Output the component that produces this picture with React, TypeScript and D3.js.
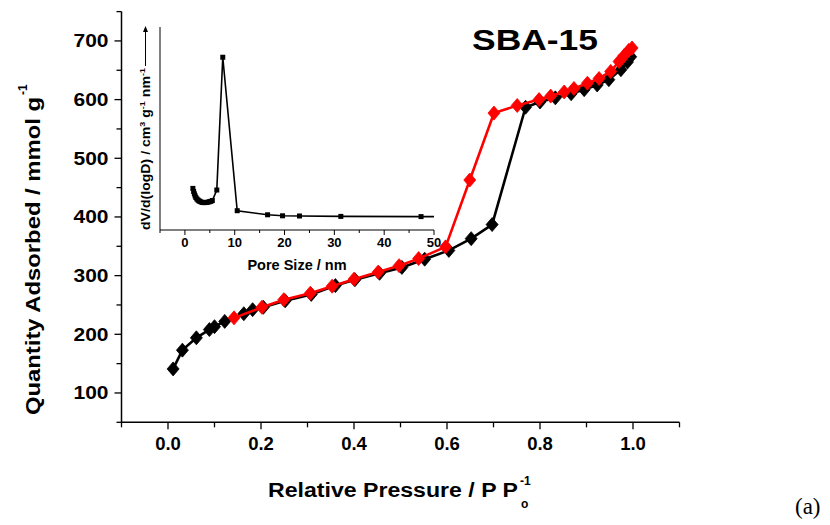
import React from "react";
import * as d3 from "d3";

// Adsorption branch (black)
const adsX = [0.011, 0.031, 0.061, 0.089, 0.100, 0.122, 0.163, 0.182, 0.205, 0.252, 0.308, 0.360, 0.402, 0.455, 0.503, 0.552, 0.604, 0.652, 0.697, 0.769, 0.800, 0.833, 0.867, 0.895, 0.923, 0.948, 0.974, 0.988, 0.995];
const adsY = [141, 173, 194, 208, 213, 222, 235, 242, 246, 257, 268, 283, 293, 304, 314, 328, 343, 363, 387, 587, 596, 603, 610, 617, 625, 634, 651, 664, 673];

// Desorption branch (red)
const desX = [0.142, 0.202, 0.249, 0.306, 0.353, 0.400, 0.452, 0.497, 0.539, 0.597, 0.649, 0.701, 0.751, 0.798, 0.823, 0.852, 0.873, 0.902, 0.927, 0.952, 0.970, 0.981, 0.991, 0.998];
const desY = [228, 246, 259, 270, 282, 294, 306, 317, 329, 349, 463, 577, 590, 600, 606, 613, 619, 628, 636, 648, 665, 675, 684, 688];

// Inset: pore size distribution
const poreX = [1.6, 1.75, 1.9, 2.05, 2.2, 2.4, 2.6, 2.8, 3.0, 3.25, 3.5, 3.75, 4.0, 4.3, 4.6, 4.9, 5.2, 5.5, 6.4, 7.6, 10.5, 16.6, 19.6, 23.0, 31.3, 47.4, 52];
const poreY = [0.205, 0.190, 0.178, 0.168, 0.160, 0.153, 0.148, 0.144, 0.141, 0.138, 0.136, 0.135, 0.135, 0.136, 0.137, 0.139, 0.141, 0.145, 0.197, 0.851, 0.095, 0.075, 0.070, 0.069, 0.067, 0.066, 0.066];

const xTickLabels = ["0.0", "0.2", "0.4", "0.6", "0.8", "1.0"];
const yTickLabels = ["100", "200", "300", "400", "500", "600", "700"];
const insetTickLabels = ["0", "10", "20", "30", "40", "50"];

const FONT = "'Liberation Sans', Arial, Helvetica, sans-serif";

export default function App() {
  const x = d3.scaleLinear().domain([-0.1, 1.1]).range([121.5, 679.5]);
  const y = d3.scaleLinear().domain([50, 750]).range([422.3, 11.6]);

  const ix = d3.scaleLinear().domain([-5, 50]).range([160, 434]);
  const iy = d3.scaleLinear().domain([0, 1]).range([230, 27]);

  const ads = adsX.map((v, i) => [v, adsY[i]] as [number, number]);
  const des = desX.map((v, i) => [v, desY[i]] as [number, number]);
  const pore = poreX.map((v, i) => [v, poreY[i]] as [number, number]);

  const line = d3.line<[number, number]>().x((d) => x(d[0])).y((d) => y(d[1]));
  const iline = d3.line<[number, number]>().x((d) => ix(d[0])).y((d) => iy(d[1]));

  const diamond = (cx: number, cy: number) =>
    `M${cx},${cy - 7}L${cx + 6},${cy}L${cx},${cy + 7}L${cx - 6},${cy}Z`;

  const xTicks = d3.range(-1, 12).map((k) => k / 10);
  const yTicks = d3.range(1, 16).map((k) => k * 50);
  const iTicks = d3.range(-1, 11).map((k) => k * 5);

  return (
    <svg
      width={830}
      height={525}
      style={{ position: "absolute", left: 0, top: 0, background: "#fff" }}
      fontFamily={FONT}
    >
      <rect x={0} y={0} width={830} height={525} fill="#fff" />
      <defs>
        <clipPath id="insetClip">
          <rect x={160} y={20} width={274} height={212} />
        </clipPath>
      </defs>

      {/* Main axes */}
      <line x1={x(-0.1)} x2={x(1.1)} y1={y(50)} y2={y(50)} stroke="#000" strokeWidth={1.5} />
      <line x1={x(-0.1)} x2={x(-0.1)} y1={y(50)} y2={y(750)} stroke="#000" strokeWidth={1.5} />
      {xTicks.map((t, i) => {
        const major = Math.round(t * 10) % 2 === 0;
        return (
          <line key={"xt" + i} x1={x(t)} x2={x(t)} y1={y(50)} y2={y(50) + (major ? 7 : 5)} stroke="#000" strokeWidth={1.3} />
        );
      })}
      {xTickLabels.map((lab) => (
        <text key={"xl" + lab} x={x(+lab)} y={450} textAnchor="middle" fontSize={18.5} fontWeight="bold">
          {lab}
        </text>
      ))}
      {yTicks.map((t) => {
        const major = t % 100 === 0;
        return (
          <line key={"yt" + t} x1={x(-0.1)} x2={x(-0.1) - (major ? 7 : 5)} y1={y(t)} y2={y(t)} stroke="#000" strokeWidth={1.3} />
        );
      })}
      {yTickLabels.map((lab) => (
        <text key={"yl" + lab} x={108.5} y={y(+lab) + 6.5} textAnchor="end" fontSize={18} fontWeight="bold" textLength={35} lengthAdjust="spacingAndGlyphs">
          {lab}
        </text>
      ))}

      {/* Axis titles */}
      <text x={268} y={497} fontSize={20} fontWeight="bold" textLength={250} lengthAdjust="spacingAndGlyphs">
        Relative Pressure / P P
      </text>
      <text x={520} y={485} fontSize={12} fontWeight="bold">-1</text>
      <text x={521} y={508} fontSize={12} fontWeight="bold">o</text>

      <g transform="translate(40,415) rotate(-90)">
        <text x={0} y={0} fontSize={20} fontWeight="bold" textLength={318} lengthAdjust="spacingAndGlyphs">
          Quantity Adsorbed / mmol g
        </text>
        <text x={320} y={-13} fontSize={12} fontWeight="bold">-1</text>
      </g>

      {/* Title */}
      <text x={472} y={50} fontSize={30} fontWeight="bold" textLength={126} lengthAdjust="spacingAndGlyphs">
        SBA-15
      </text>

      {/* (a) */}
      <text x={795} y={514} fontSize={23} fontFamily="'Liberation Serif', 'Times New Roman', serif">
        (a)
      </text>

      {/* Inset axes */}
      <line x1={ix(-5)} x2={ix(50)} y1={iy(0)} y2={iy(0)} stroke="#000" strokeWidth={1} />
      <line x1={ix(-5)} x2={ix(-5)} y1={iy(0)} y2={iy(1)} stroke="#000" strokeWidth={1} />
      {iTicks.map((t) => {
        const major = t % 10 === 0;
        return (
          <line key={"it" + t} x1={ix(t)} x2={ix(t)} y1={iy(0)} y2={iy(0) + (major ? 5 : 3)} stroke="#000" strokeWidth={1} />
        );
      })}
      {insetTickLabels.map((lab) => (
        <text key={"il" + lab} x={ix(+lab)} y={247} textAnchor="middle" fontSize={13} fontWeight="bold">
          {lab}
        </text>
      ))}
      <text x={297} y={270} textAnchor="middle" fontSize={14.5} fontWeight="bold">
        Pore Size / nm
      </text>
      <g transform="translate(150,230) rotate(-90)">
        <text x={0} y={0} fontSize={12.5} fontWeight="bold" textLength={162} lengthAdjust="spacingAndGlyphs">
          <tspan>dV/d(logD) / cm</tspan>
          <tspan dy={-5} fontSize={8}>3</tspan>
          <tspan dy={5}> g</tspan>
          <tspan dy={-5} fontSize={8}>-1</tspan>
          <tspan dy={5}> nm</tspan>
          <tspan dy={-5} fontSize={8}>-1</tspan>
        </text>
      </g>
      <line x1={145.5} x2={145.5} y1={66} y2={31} stroke="#000" strokeWidth={1} />
      <path d="M143,32L145.5,26L148,32Z" fill="#000" />

      {/* Inset data */}
      <g clipPath="url(#insetClip)">
        <path d={iline(pore) || ""} fill="none" stroke="#000" strokeWidth={1.6} />
        {pore.map((d, i) => (
          <rect key={"ps" + i} x={ix(d[0]) - 2.5} y={iy(d[1]) - 2.5} width={5} height={5} fill="#000" />
        ))}
      </g>

      {/* Main data: adsorption (black) */}
      <path d={line(ads) || ""} fill="none" stroke="#000" strokeWidth={2.6} />
      {ads.map((d, i) => (
        <path key={"a" + i} d={diamond(x(d[0]), y(d[1]))} fill="#000" stroke="#000" strokeWidth={0.8} />
      ))}

      {/* Main data: desorption (red) */}
      <path d={line(des) || ""} fill="none" stroke="#f00" strokeWidth={2.6} />
      {des.map((d, i) => (
        <path key={"d" + i} d={diamond(x(d[0]), y(d[1]))} fill="#f00" stroke="#f00" strokeWidth={0.8} />
      ))}
    </svg>
  );
}
